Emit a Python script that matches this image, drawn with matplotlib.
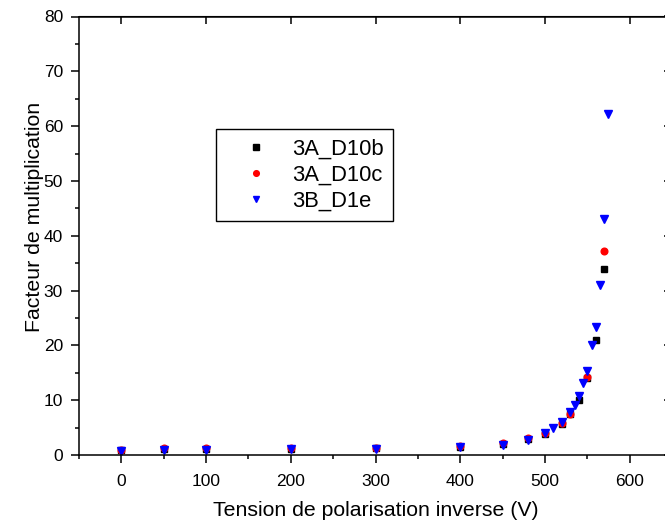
import matplotlib
matplotlib.use("Agg")
import matplotlib.pyplot as plt
from matplotlib.ticker import MultipleLocator

plt.rcParams['font.family'] = ['Liberation Sans', 'DejaVu Sans']

# Data
V_b = [0, 50, 100, 200, 300, 400, 450, 480, 500, 520, 530, 540, 550, 560, 570]
M_b = [0.85, 1.1, 1.1, 1.15, 1.2, 1.5, 2.0, 2.9, 3.8, 5.6, 7.4, 10.1, 14.0, 20.9, 33.9]

V_c = [0, 50, 100, 200, 300, 400, 450, 480, 500, 520, 530, 550, 570]
M_c = [0.9, 1.2, 1.2, 1.25, 1.25, 1.6, 2.2, 3.1, 4.1, 5.8, 7.5, 14.3, 37.2]

V_e = [0, 50, 100, 200, 300, 400, 450, 480, 500, 510, 520, 530, 535, 540, 545,
       550, 555, 560, 565, 570, 575]
M_e = [0.75, 1.0, 1.0, 1.05, 1.1, 1.4, 1.9, 2.8, 4.0, 4.9, 6.0, 7.8, 9.1, 10.8, 13.1,
       15.4, 20.0, 23.3, 31.0, 43.0, 62.2]

labels = ['3A_D10b', '3A_D10c', '3B_D1e']

W, H = 665, 528
fig = plt.figure(figsize=(W / 100, H / 100), dpi=100)
left, right, bottom, top = 79, 672, 455, 16.5
ax = fig.add_axes([left / W, (H - bottom) / H, (right - left) / W, (bottom - top) / H])

ax.plot(V_b, M_b, linestyle='none', marker='s', ms=4.4, color='black', label=labels[0])
ax.plot(V_c, M_c, linestyle='none', marker='o', ms=4.8, color='#ff0000', label=labels[1])
ax.plot(V_e, M_e, linestyle='none', marker='v', ms=5.6, color='#0000ff', label=labels[2])

ax.set_xlim(-50, 650)
ax.set_ylim(0, 80)
ax.xaxis.set_major_locator(MultipleLocator(100))
ax.xaxis.set_minor_locator(MultipleLocator(50))
ax.yaxis.set_major_locator(MultipleLocator(10))
ax.yaxis.set_minor_locator(MultipleLocator(5))

for s in ax.spines.values():
    s.set_linewidth(1.1)

ax.tick_params(axis='both', which='major', direction='out', length=5.5, width=1.1,
               labelsize=12.5, pad=6)
ax.tick_params(axis='x', which='major', pad=8)
ax.tick_params(axis='both', which='minor', direction='out', length=3, width=1.1)
ax.tick_params(which='both', top=False, right=False)

# mirrored inward ticks on top / right
axt = ax.secondary_xaxis('top')
axt.xaxis.set_major_locator(MultipleLocator(100))
axt.tick_params(direction='in', length=6, width=1.1, labeltop=False)
axr = ax.secondary_yaxis('right')
axr.yaxis.set_major_locator(MultipleLocator(10))
axr.tick_params(direction='in', length=6, width=1.1, labelright=False)

ax.set_xlabel('Tension de polarisation inverse (V)', fontsize=15.3, labelpad=9)
ax.set_ylabel('Facteur de multiplication', fontsize=15.3)
ax.yaxis.set_label_coords(-0.059, 0.543)

leg = ax.legend(loc='upper left',
                bbox_to_anchor=((216 - left) / (right - left), (bottom - 129) / (bottom - top)),
                fontsize=15.8, frameon=True, fancybox=False, framealpha=1,
                edgecolor='black', borderpad=0.45, labelspacing=0.22,
                handlelength=2.7, handletextpad=0.3, borderaxespad=0,
                markerscale=0.85)
leg.get_frame().set_linewidth(1.0)

fig.savefig('out.png', dpi=100)
